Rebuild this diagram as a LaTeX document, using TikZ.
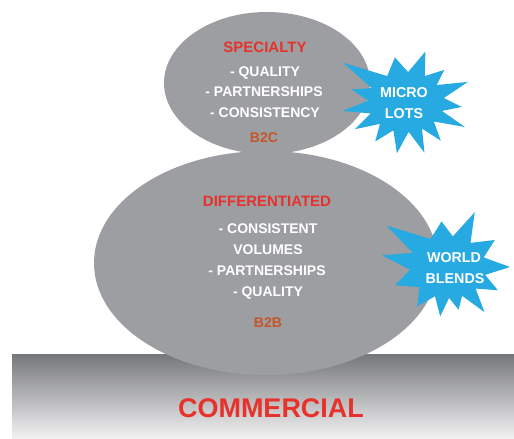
\documentclass[tikz,border=0pt]{standalone}
\usepackage{fontspec}
\setmainfont{Liberation Sans}
\definecolor{redc}{HTML}{E7322C}
\definecolor{b2cc}{HTML}{C5562A}
\definecolor{ellc}{HTML}{9C9EA1}
\definecolor{burstc}{HTML}{27A9E1}
\definecolor{bandtop}{HTML}{76777B}
\definecolor{bandbot}{HTML}{F3F3F4}
\begin{document}
\begin{tikzpicture}[x=1pt,y=-1pt,
  hdr/.style={font=\bfseries\fontsize{15}{18}\selectfont, text=redc, inner sep=0pt, text height=10.7pt, text depth=0pt},
  itm/.style={font=\bfseries\fontsize{14}{17}\selectfont, text=white, inner sep=0pt, text height=10pt, text depth=0pt},
  tier/.style={font=\bfseries\fontsize{14}{17}\selectfont, text=b2cc, inner sep=0pt, text height=10pt, text depth=0pt},
  bursttxt/.style={font=\bfseries\fontsize{14.3}{17}\selectfont, text=white, inner sep=0pt, text height=10.2pt, text depth=0pt},
  base/.style={font=\bfseries\fontsize{27}{31}\selectfont, text=redc, inner sep=0pt, text height=19.3pt, text depth=0pt},
  blob/.style={fill=ellc},
  burst/.style={fill=burstc}]
\useasboundingbox (0,0) rectangle (514,439);
\fill[white] (0,0) rectangle (514,439);
% ground band
\shade[top color=bandtop, bottom color=bandbot] (12,354) rectangle (514,439);
% ellipses
\fill[blob] (266,263) ellipse [x radius=172pt, y radius=112pt];
\fill[blob] (267,83) ellipse [x radius=103pt, y radius=71pt];
% micro lots burst
\fill[burst, shift={(406,102)}]
  (-69:54) -- (-54:32) -- (-40:50) -- (-29:35) -- (-18:65) -- (-6:38) --
  (5:56) -- (14:37) -- (23:64) -- (35:34) -- (48:52) -- (59:31) --
  (70:54) -- (85:30) -- (100:52) -- (114:31) -- (128:50) -- (140:34) --
  (152:58) -- (162:37) -- (172:64) -- (182:38) -- (193:56) -- (202:37) --
  (212:74) -- (234:32) -- (256:46) -- (274:30) -- cycle;
% world blends burst
\fill[burst, shift={(448,267)}]
  (-64:61) -- (-47:33) -- (-30:54) -- (-15:37) -- (0:62) -- (12:38) --
  (25:55) -- (38:35) -- (51:58) -- (64:32) -- (76:44) -- (88:31) --
  (99:50) -- (114:32) -- (128:50) -- (145:35) -- (161:56) -- (176:38) --
  (190:67) -- (202:38) -- (214:74) -- (238:33) -- (262:46) -- (279:31) -- cycle;
% texts
\node[hdr] (spec) at (265,47) {SPECIALTY};
\node[itm] (s1) at (265,71) {- QUALITY};
\node[itm] (s2) at (264,91) {- PARTNERSHIPS};
\node[itm] (s3) at (265,112) {- CONSISTENCY};
\node[tier] (b2c) at (264,137) {B2C};
\node[hdr] (diff) at (267,201) {DIFFERENTIATED};
\node[itm] (d1) at (268,228) {- CONSISTENT};
\node[itm] (d2) at (268,249) {VOLUMES};
\node[itm] (d3) at (267,270) {- PARTNERSHIPS};
\node[itm] (d4) at (268,291) {- QUALITY};
\node[tier] (b2b) at (268,322) {B2B};
\node[bursttxt] (m1) at (404,92) {MICRO};
\node[bursttxt] (m2) at (404,113) {LOTS};
\node[bursttxt] (w1) at (454,257) {WORLD};
\node[bursttxt] (w2) at (455,278) {BLENDS};
\node[base] (com) at (271,408) {COMMERCIAL};
\end{tikzpicture}
\end{document}
